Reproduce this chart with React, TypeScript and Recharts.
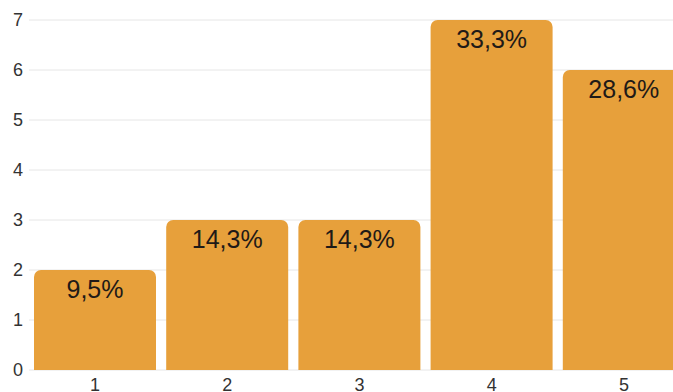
import { BarChart, Bar, XAxis, YAxis, CartesianGrid, LabelList } from "recharts";

const categories = ["1", "2", "3", "4", "5"];
const counts = [2, 3, 3, 7, 6];
const shares = ["9,5%", "14,3%", "14,3%", "33,3%", "28,6%"];
const yTicks = [0, 1, 2, 3, 4, 5, 6, 7];

const data = categories.map((c, i) => ({ name: c, count: counts[i], share: shares[i] }));

const font = "'Liberation Sans', Arial, sans-serif";

export default function App() {
    return (
        <div style={{ position: "fixed", left: 0, top: 0, width: 673, height: 392, overflow: "hidden", background: "#fff" }}>
            <BarChart width={690} height={400} data={data} margin={{ top: 20, right: 0, bottom: 0, left: 0 }}
                      barCategoryGap={5}>
                <CartesianGrid vertical={false} stroke="#e6e6e6" />
                <XAxis dataKey="name" axisLine={false} tickLine={false} height={30}
                       tick={{ fontSize: 18, fill: "#333", fontFamily: font }} />
                <YAxis domain={[0, 7]} ticks={yTicks} width={29} axisLine={false} tickLine={false} tickMargin={0}
                       tick={{ fontSize: 18, fill: "#333", fontFamily: font }} />
                <Bar dataKey="count" fill="#E7A03B" radius={[7, 7, 0, 0]} isAnimationActive={false}>
                    <LabelList dataKey="share" position="insideTop" offset={10}
                               style={{ fontSize: 25, fill: "#1f1a17", fontFamily: font }} />
                </Bar>
            </BarChart>
        </div>
    );
}
